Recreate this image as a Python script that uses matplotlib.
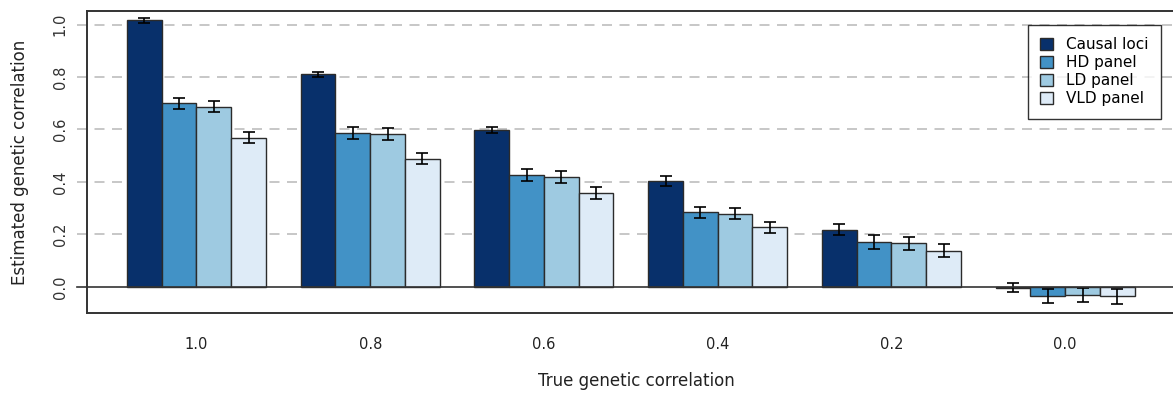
import numpy as np
import matplotlib
matplotlib.use("Agg")
import matplotlib.pyplot as plt

# true genetic correlation groups (x axis)
groups = ["1.0", "0.8", "0.6", "0.4", "0.2", "0.0"]
series = ["Causal loci", "HD panel", "LD panel", "VLD panel"]
colors = ["#08306B", "#4292C6", "#9ECAE1", "#DEEBF7"]

# estimated genetic correlation, one list per series
causal = [1.017, 0.810, 0.597, 0.404, 0.218, -0.003]
hd = [0.700, 0.588, 0.427, 0.285, 0.171, -0.034]
ld = [0.687, 0.582, 0.419, 0.279, 0.166, -0.030]
vld = [0.569, 0.489, 0.357, 0.227, 0.138, -0.037]

# standard errors
causal_se = [0.010, 0.011, 0.012, 0.018, 0.021, 0.017]
hd_se = [0.020, 0.023, 0.024, 0.021, 0.026, 0.027]
ld_se = [0.021, 0.023, 0.023, 0.021, 0.025, 0.027]
vld_se = [0.020, 0.022, 0.022, 0.022, 0.024, 0.027]

yticks = [0.0, 0.2, 0.4, 0.6, 0.8, 1.0]

values = [causal, hd, ld, vld]
errors = [causal_se, hd_se, ld_se, vld_se]

W, H = 1173, 393
fig = plt.figure(figsize=(W / 100, H / 100), dpi=100)
# the plot box runs off the right edge of the image in the original
ax = fig.add_axes([87 / W, 1 - 313 / H, (1185 - 87) / W, (313 - 11) / H])

n_series = len(series)
step = n_series + 1  # one empty bar slot between groups
grp_x = np.arange(len(groups)) * step

for i in range(n_series):
    x = grp_x + 1 + i + 0.5
    ax.bar(x, values[i], width=1.0, color=colors[i], edgecolor="#2b2b2b",
           linewidth=1.0, label=series[i], zorder=3)
    ax.errorbar(x, values[i], yerr=errors[i], fmt="none", ecolor="black",
                elinewidth=1.2, capsize=4, capthick=1.2, zorder=4)

# dashed reference lines and the zero line, drawn a little past the left axis
for yv in yticks[1:]:
    ax.plot([-0.009, 1], [yv, yv], transform=ax.get_yaxis_transform(),
            color="#bdbdbd", lw=1.2, ls=(0, (6, 4.5)), clip_on=False, zorder=1)
ax.plot([-0.009, 1], [0, 0], transform=ax.get_yaxis_transform(),
        color="#333333", lw=1.2, clip_on=False, zorder=5)

ax.set_xlim(-0.15, -0.15 + (1185 - 87) / 34.75)
ax.set_ylim(-0.1, 1.052)

ax.set_yticks(yticks)
ax.set_yticklabels(["%.1f" % v for v in yticks], rotation=90, va="center",
                   fontsize=10.5, color="#333333")
ax.tick_params(axis="y", length=0, pad=14)
ax.set_xticks(grp_x + 3)
ax.set_xticklabels(groups, fontsize=10.5, color="#222222")
ax.tick_params(axis="x", length=0, pad=17)

for s in ["left", "top", "bottom"]:
    ax.spines[s].set_color("#333333")
    ax.spines[s].set_linewidth(1.4)
ax.spines["right"].set_visible(False)

fig.text(87 / W + 0.5 * (1185 - 87) / W, 1 - 381 / H, "True genetic correlation",
         fontsize=12, color="#222222", ha="center", va="center")
fig.text(20 / W, 1 - 162 / H, "Estimated genetic correlation", rotation=90,
         fontsize=12, color="#222222", ha="center", va="center")

leg = ax.legend(loc="upper right", bbox_to_anchor=(1161 / W, 1 - 25 / H),
                bbox_transform=fig.transFigure, borderaxespad=0, fontsize=11,
                frameon=True, fancybox=False, handlelength=0.8, handleheight=0.8,
                handletextpad=0.9, labelspacing=0.2, borderpad=0.8)
leg.get_frame().set_edgecolor("black")
leg.get_frame().set_linewidth(1.0)
leg.set_zorder(10)

fig.savefig("out.png", dpi=100)
